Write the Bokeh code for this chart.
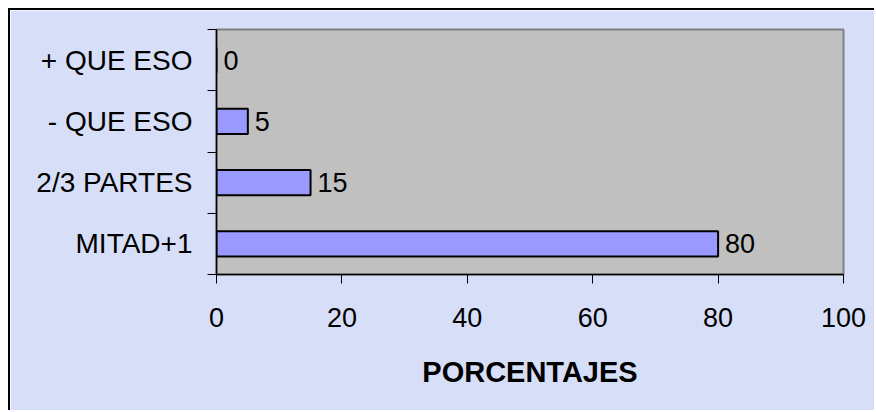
from bokeh.plotting import figure
from bokeh.models import Range1d, FixedTicker, ColumnDataSource, LabelSet
from bokeh.core.properties import value
from bokeh.embed import file_html
from bokeh.resources import INLINE

categories = ["MITAD+1", "2/3 PARTES", "- QUE ESO", "+ QUE ESO"]
values = [80, 15, 5, 0]
x_ticks = [0, 20, 40, 60, 80, 100]
x_label = "PORCENTAJES"

ypos = list(range(len(categories)))
src = ColumnDataSource(dict(y=ypos, v=values, lbl=[str(v) for v in values]))

FONT = "Liberation Sans"

p = figure(width=866, height=402, output_backend="svg", toolbar_location=None,
           x_range=Range1d(0, 100), y_range=Range1d(-0.5, len(categories) - 0.5),
           min_border_left=206, min_border_right=33, min_border_top=19, min_border_bottom=138)
p.styles = {"margin-left": "8px", "margin-top": "8px",
            "border-left": "2px solid #000", "border-top": "2px solid #000"}
p.background_fill_color = "#c0c0c0"
p.border_fill_color = "#d7def7"
p.outline_line_color = "#808080"
p.outline_line_width = 2
p.xgrid.visible = False
p.ygrid.visible = False

p.hbar(y="y", left=0, right="v", height=0.41, source=src,
       fill_color="#9999ff", line_color="black", line_width=2)

labels = LabelSet(x="v", y="y", text="lbl", source=src, x_offset=7,
                  text_baseline="middle", text_align="left",
                  text_font=value(FONT), text_font_size="27px", text_color="black")
p.add_layout(labels)

ya = p.yaxis[0]
ya.ticker = FixedTicker(ticks=ypos, minor_ticks=[y - 0.5 for y in ypos] + [len(categories) - 0.5])
ya.major_label_overrides = {i: c for i, c in enumerate(categories)}
ya.major_tick_line_color = None
ya.major_tick_out = 0
ya.major_tick_in = 0
ya.minor_tick_out = 9
ya.minor_tick_in = 0
ya.minor_tick_line_color = "black"
ya.axis_line_color = "black"
ya.axis_line_width = 1.5
ya.major_label_standoff = 15
ya.major_label_text_font = FONT
ya.major_label_text_font_size = "28px"
ya.major_label_text_color = "black"

xa = p.xaxis[0]
xa.ticker = FixedTicker(ticks=x_ticks, minor_ticks=[])
xa.major_tick_out = 9
xa.major_tick_in = 0
xa.major_tick_line_color = "black"
xa.axis_line_color = "black"
xa.axis_line_width = 1.5
xa.major_label_standoff = 24
xa.major_label_text_font = FONT
xa.major_label_text_font_size = "27px"
xa.major_label_text_color = "black"
xa.axis_label = x_label
xa.axis_label_text_font = FONT
xa.axis_label_text_font_size = "29px"
xa.axis_label_text_font_style = "bold"
xa.axis_label_text_color = "black"
xa.axis_label_standoff = 26

open("out.html", "w").write(file_html(p, INLINE))
